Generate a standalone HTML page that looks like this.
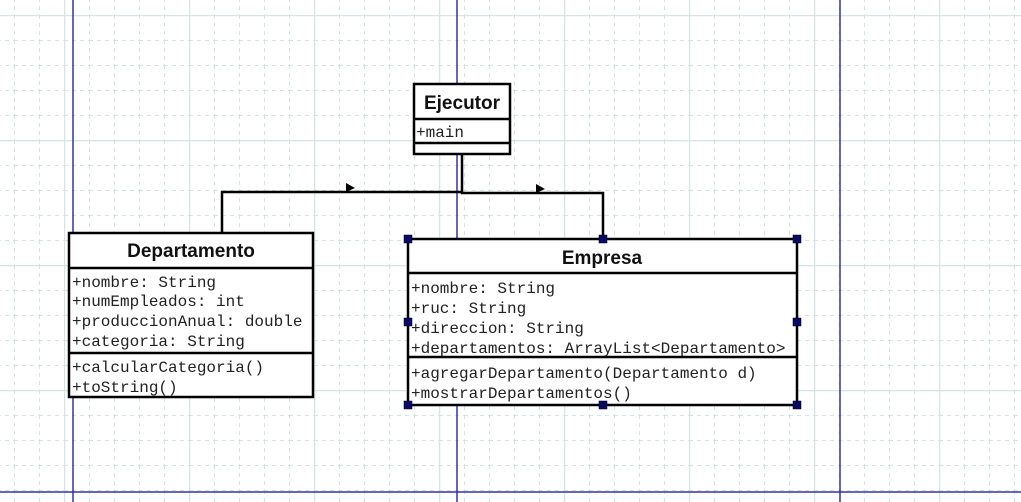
<!DOCTYPE html>
<html><head><meta charset="utf-8"><style>
html,body{margin:0;padding:0;background:#fff;}
svg{display:block}
.m{font-family:"Liberation Mono",monospace;font-size:16px;fill:#222}
.h{font-family:"Liberation Sans",sans-serif;font-weight:bold;fill:#111}
</style></head><body>
<svg width="1021" height="502" viewBox="0 0 1021 502" xmlns="http://www.w3.org/2000/svg">
<defs>
<pattern id="g" x="14" y="15" width="25" height="25" patternUnits="userSpaceOnUse">
<path d="M0.5 0V25M0 0.5H25" stroke="#d3e3e3" stroke-width="1" stroke-dasharray="4,4" fill="none"/>
</pattern>
<pattern id="G" x="64" y="15" width="125" height="125" patternUnits="userSpaceOnUse">
<path d="M0.5 0V125M0 0.5H125" stroke="#d6e4e4" stroke-width="1.5" fill="none"/>
</pattern>
</defs>
<rect width="1021" height="502" fill="#fff"/>
<rect width="1021" height="502" fill="url(#g)"/>
<rect width="1021" height="502" fill="url(#G)"/>
<g stroke="#3333aa" stroke-width="1.5">
<line x1="73" y1="0" x2="73" y2="502"/>
<line x1="457" y1="0" x2="457" y2="502"/>
<line x1="840" y1="0" x2="840" y2="502"/>
<line x1="0" y1="492" x2="1021" y2="492"/>
</g>
<!-- connectors -->
<g stroke="#000" stroke-width="2.5" fill="none">
<polyline points="462,154 462,193 603,193 603,239"/>
<polyline points="462,192 222,192 222,233"/>
</g>
<polygon points="346,183 355,188 346,192" fill="#000"/>
<polygon points="536,184 545,189 536,193" fill="#000"/>
<!-- Ejecutor -->
<g stroke="#000" stroke-width="2.5" fill="#fff">
<rect x="414" y="84" width="96" height="70"/>
<line x1="414" y1="119" x2="510" y2="119"/>
<line x1="414" y1="143" x2="510" y2="143"/>
</g>
<text class="h" x="462" y="109" font-size="19" text-anchor="middle">Ejecutor</text>
<text class="m" x="416" y="137">+main</text>
<!-- Departamento -->
<g stroke="#000" stroke-width="2.5" fill="#fff">
<rect x="69" y="233" width="244" height="164"/>
<line x1="69" y1="268" x2="313" y2="268"/>
<line x1="69" y1="353" x2="313" y2="353"/>
</g>
<text class="h" x="191" y="257" font-size="19" text-anchor="middle">Departamento</text>
<text class="m" x="72" y="287">+nombre: String</text>
<text class="m" x="72" y="306">+numEmpleados: int</text>
<text class="m" x="72" y="326">+produccionAnual: double</text>
<text class="m" x="72" y="346">+categoria: String</text>
<text class="m" x="72" y="372">+calcularCategoria()</text>
<text class="m" x="72" y="392">+toString()</text>
<!-- Empresa -->
<g stroke="#000" stroke-width="2.5" fill="#fff">
<rect x="408" y="239" width="389" height="166"/>
<line x1="408" y1="273" x2="797" y2="273"/>
<line x1="408" y1="357" x2="797" y2="357"/>
</g>
<text class="h" x="602" y="264" font-size="19" text-anchor="middle">Empresa</text>
<text class="m" x="411" y="293">+nombre: String</text>
<text class="m" x="411" y="313">+ruc: String</text>
<text class="m" x="411" y="333">+direccion: String</text>
<text class="m" x="411" y="353">+departamentos: ArrayList&lt;Departamento&gt;</text>
<text class="m" x="411" y="378">+agregarDepartamento(Departamento d)</text>
<text class="m" x="411" y="398">+mostrarDepartamentos()</text>
<g fill="#0a0a6a" stroke="#000" stroke-width="0.5">
<rect x="404" y="235" width="8" height="8"/><rect x="599" y="235" width="8" height="8"/><rect x="793" y="235" width="8" height="8"/>
<rect x="404" y="318" width="8" height="8"/><rect x="793" y="318" width="8" height="8"/>
<rect x="404" y="401" width="8" height="8"/><rect x="599" y="401" width="8" height="8"/><rect x="793" y="401" width="8" height="8"/>
</g>
</svg>
</body></html>
